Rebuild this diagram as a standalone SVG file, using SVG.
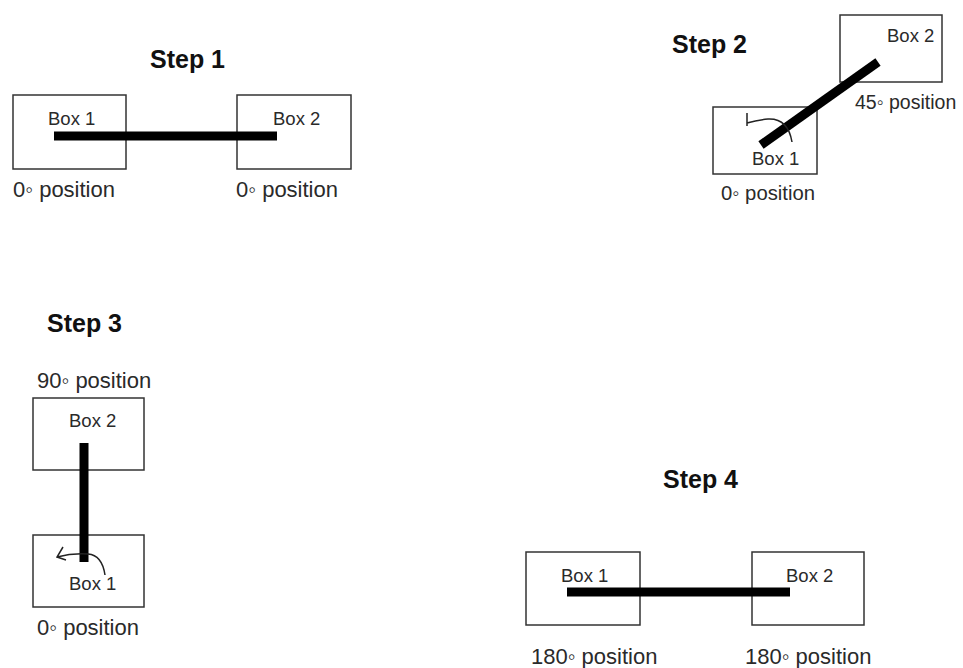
<svg xmlns="http://www.w3.org/2000/svg" width="963" height="668" viewBox="0 0 963 668">
<style>
.box{fill:#fff;stroke:#333;stroke-width:1.5}
.t{font-family:"Liberation Sans",Arial,sans-serif;font-size:18.5px;fill:#2a2a2a}
.p{font-family:"Liberation Sans",Arial,sans-serif;font-size:22px;fill:#2a2a2a}
.ps{font-family:"Liberation Sans",Arial,sans-serif;font-size:20.3px;fill:#2a2a2a}
.ps2{font-family:"Liberation Sans",Arial,sans-serif;font-size:19.5px;fill:#2a2a2a}
.h{font-family:"Liberation Sans",Arial,sans-serif;font-size:25px;font-weight:bold;fill:#111}
.bar{stroke:#000;stroke-width:9;fill:none}
.arc{stroke:#222;stroke-width:1.5;fill:none}
</style>
<rect width="963" height="668" fill="#fff"/>
<g id="step1">
  <text class="h" x="150" y="68">Step 1</text>
  <g id="s1-box1"><rect class="box" x="13" y="95" width="113" height="74"/><text class="t" x="48" y="125">Box 1</text><text class="p" x="13" y="197">0◦ position</text></g>
  <g id="s1-box2"><rect class="box" x="237" y="95" width="114" height="74"/><text class="t" x="273" y="125">Box 2</text><text class="p" x="236" y="197">0◦ position</text></g>
</g>
<g id="step2">
  <text class="h" x="672" y="53">Step 2</text>
  <g id="s2-box1"><rect class="box" x="713" y="107" width="104" height="67"/><text class="t" x="752" y="165">Box 1</text><text class="ps" x="721" y="200">0◦ position</text></g>
  <g id="s2-box2"><rect class="box" x="840" y="15" width="102" height="67"/><text class="t" x="887" y="42">Box 2</text><text class="ps2" x="855" y="109">45◦ position</text></g>
</g>
<g id="step3">
  <text class="h" x="47" y="332">Step 3</text>
  <g id="s3-box2"><rect class="box" x="33" y="398" width="111" height="72"/><text class="t" x="69" y="427">Box 2</text><text class="p" x="37" y="388">90◦ position</text></g>
  <g id="s3-box1"><rect class="box" x="33" y="535" width="111" height="72"/><text class="t" x="69" y="590">Box 1</text><text class="p" x="37" y="635">0◦ position</text></g>
</g>
<g id="step4">
  <text class="h" x="663" y="488">Step 4</text>
  <g id="s4-box1"><rect class="box" x="526" y="552" width="114" height="73"/><text class="t" x="561" y="582">Box 1</text><text class="p" x="531" y="664">180◦ position</text></g>
  <g id="s4-box2"><rect class="box" x="752" y="552" width="112" height="73"/><text class="t" x="786" y="582">Box 2</text><text class="p" x="745" y="664">180◦ position</text></g>
</g>
<g id="connectors">
  <line class="bar" x1="761" y1="145" x2="878" y2="62"/>
  <line class="bar" x1="54" y1="136" x2="277" y2="136"/>
  <line class="bar" x1="84" y1="443" x2="84" y2="562"/>
  <line class="bar" x1="567" y1="592" x2="790" y2="592"/>
  <path class="arc" d="M792 142 Q788 118 768 119 Q757 120 747 123 M747 113 L747 126"/>
  <path class="arc" d="M105 575 Q102 555 88 554 Q72 553 57 557 M63 547 L57 557 L66 560"/>
</g>
</svg>
